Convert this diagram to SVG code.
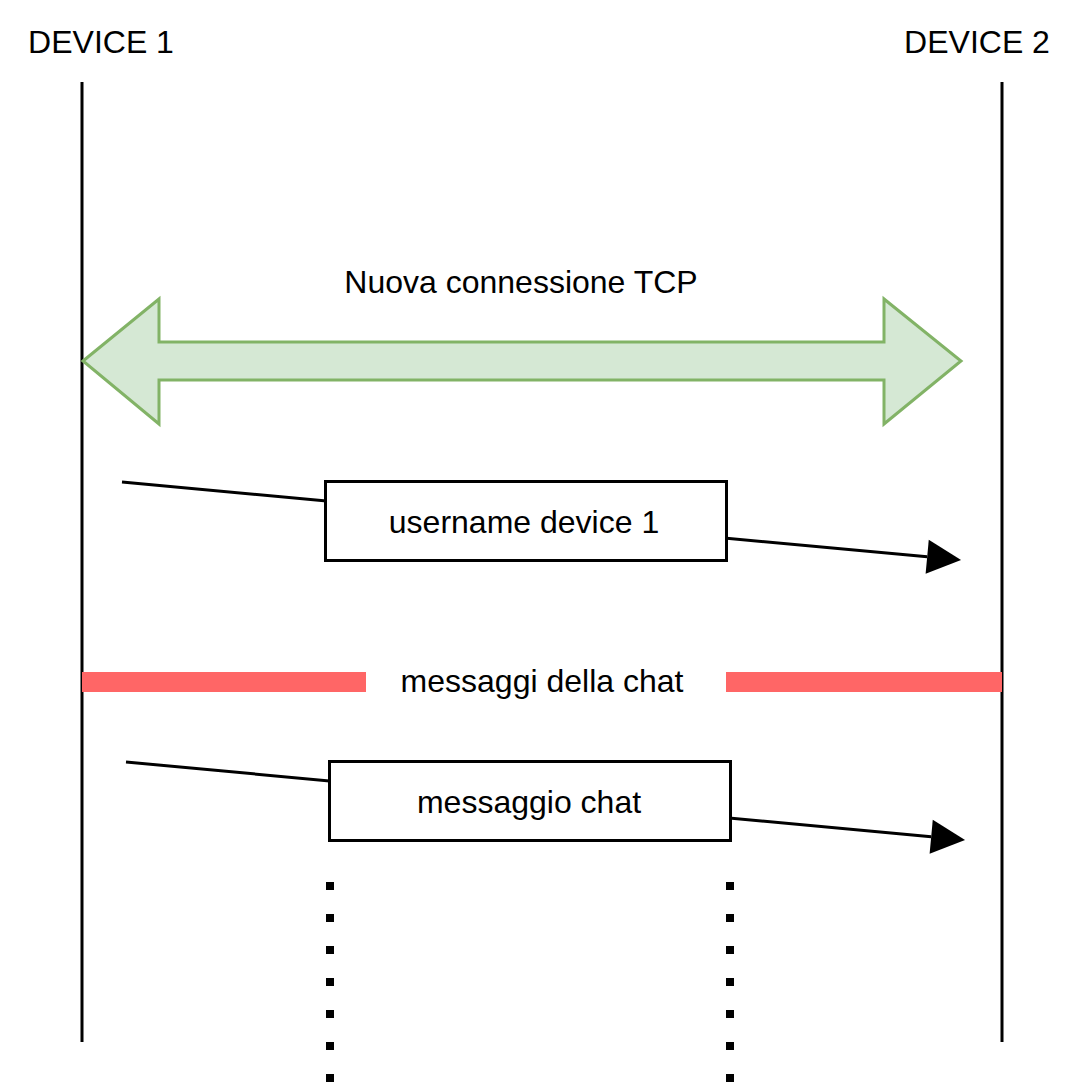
<svg xmlns="http://www.w3.org/2000/svg" width="1080" height="1092" viewBox="0 0 1080 1092">
  <style>
    .lbl { font-family: "Liberation Sans", Arial, Helvetica, sans-serif; font-size: 32px; fill: #000000; text-anchor: middle; }
    .life { stroke: #000000; stroke-width: 3; fill: none; }
    .msg { stroke: #000000; stroke-width: 3; fill: none; marker-end: url(#head); }
    .box { fill: #ffffff; stroke: #000000; stroke-width: 3; }
    .dots { stroke: #000000; stroke-width: 8; stroke-dasharray: 8 24; fill: none; }
    .bar { fill: #ff6666; }
  </style>
  <defs>
    <marker id="head" markerUnits="userSpaceOnUse" markerWidth="36" markerHeight="36" refX="0" refY="17" orient="auto" overflow="visible">
      <path d="M0,0 L34,17 L0,34 Z" fill="#000000"/>
    </marker>
  </defs>
  <rect width="1080" height="1092" fill="#ffffff"/>

  <g id="device1">
    <text class="lbl" x="101" y="52.5">DEVICE 1</text>
    <line class="life" x1="82" y1="82" x2="82" y2="1042"/>
  </g>
  <g id="device2">
    <text class="lbl" x="977" y="52.5">DEVICE 2</text>
    <line class="life" x1="1002" y1="82" x2="1002" y2="1042"/>
  </g>

  <g id="tcp">
    <polygon points="83,361 159,299 159,342 884,342 884,299 961,361 884,424 884,380 159,380 159,424" fill="#d5e8d4" stroke="#82b366" stroke-width="3" stroke-linejoin="miter"/>
    <text class="lbl" x="521" y="293">Nuova connessione TCP</text>
  </g>

  <g id="connectors">
    <line class="msg" x1="122" y1="482" x2="927.2" y2="556.8"/>
    <line class="msg" x1="126" y1="762" x2="931.2" y2="836.8"/>
  </g>

  <g id="username">
    <rect class="box" x="325.5" y="481.5" width="401" height="79"/>
    <text class="lbl" x="524" y="533">username device 1</text>
  </g>

  <g id="chat-divider">
    <rect class="bar" x="82" y="672" width="284" height="20"/>
    <rect class="bar" x="726" y="672" width="276" height="20"/>
    <text class="lbl" x="542" y="692">messaggi della chat</text>
  </g>

  <g id="messaggio">
    <rect class="box" x="329.5" y="761.5" width="401" height="79"/>
    <text class="lbl" x="529" y="813">messaggio chat</text>
  </g>

  <g id="continuation">
    <line class="dots" x1="330" y1="882" x2="330" y2="1092"/>
    <line class="dots" x1="730" y1="882" x2="730" y2="1092"/>
  </g>
</svg>
